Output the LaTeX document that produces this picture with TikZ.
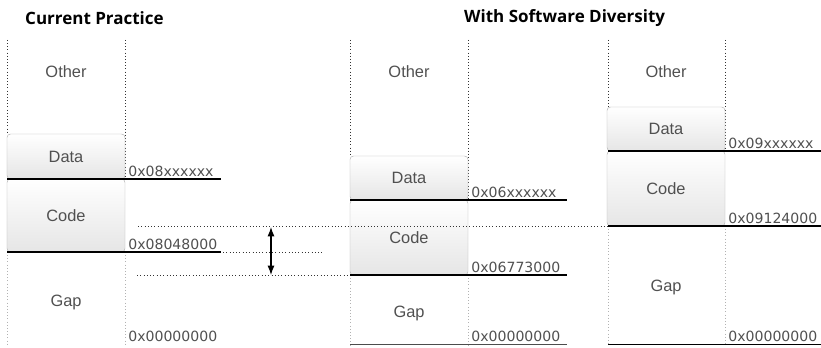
\documentclass[tikz,border=0pt]{standalone}
\usepackage{fontspec}
\setmainfont{Liberation Sans}
\newfontfamily\titlefont{Open Sans}
\newfontfamily\hexfont{DejaVu Sans}
\usetikzlibrary{arrows.meta}
\definecolor{labelgray}{HTML}{505050}

\begin{document}
\begin{tikzpicture}[x=0.03cm,y=-0.03cm,
    seg/.style={draw=gray!60, rounded corners=3pt, top color=white, bottom color=gray!20,
                minimum width=3.54cm, text=labelgray, font=\fontsize{14}{16}\selectfont},
    region/.style={text=labelgray, font=\fontsize{14}{16}\selectfont},
    addr/.style={anchor=south west, inner sep=1pt, text=labelgray, font=\hexfont\fontsize{12}{14}\selectfont},
    bound/.style={line width=1.2pt, black},
    colline/.style={dotted, line width=0.7pt, black!80},
    lowline/.style={dotted, line width=0.7pt, gray!60},
    guide/.style={dotted, line width=0.8pt, black!80},
    heading/.style={anchor=west, inner sep=0pt, font=\titlefont\bfseries\fontsize{14.5}{17}\selectfont}]
\useasboundingbox (0,0) rectangle (821,348);
% titles
\node[heading] (cur) at (25,18) {Current Practice};
\node[heading] (div) at (464,18) {With Software Diversity};
% column edges
\draw[colline] (7,40)--(7,134);
\draw[colline] (125,40)--(125,179);
\draw[lowline] (7,252)--(7,345);
\draw[lowline] (125,252)--(125,345);
\draw[colline] (350,40)--(350,156);
\draw[colline] (468,40)--(468,200);
\draw[lowline] (350,275)--(350,345);
\draw[lowline] (468,275)--(468,345);
\draw[colline] (608,40)--(608,107);
\draw[colline] (725,40)--(725,151);
\draw[lowline] (608,226)--(608,345);
\draw[lowline] (725,226)--(725,345);
% current practice
\node[region] (othA) at (66,72) {Other};
\node[seg, minimum height=1.35cm] (datA) at (66,156.5) {Data};
\node[seg, minimum height=2.19cm] (codA) at (66,215.5) {Code};
\node[region] (gapA) at (66,302) {Gap};
\draw[bound] (7,179)--(221,179);
\draw[bound] (7,252)--(221,252);
\node[addr] (hexA1) at (127,178) {0x08xxxxxx};
\node[addr] (hexA2) at (127,251) {0x08048000};
\node[addr] (hexA3) at (127,343) {0x00000000};
% shifted layout 1
\node[region] (othB) at (409,72) {Other};
\node[seg, minimum height=1.32cm] (datB) at (409,178) {Data};
\node[seg, minimum height=2.25cm] (codB) at (409,237.5) {Code};
\node[region] (gapB) at (409,313) {Gap};
\draw[bound] (350,200)--(567,200);
\draw[bound] (350,275)--(567,275);
\draw[line width=0.6pt, black!70] (350,344)--(567,344);
\node[addr] (hexB1) at (470,199) {0x06xxxxxx};
\node[addr] (hexB2) at (470,274) {0x06773000};
\node[addr] (hexB3) at (470,343) {0x00000000};
% shifted layout 2
\node[region] (othC) at (666,72) {Other};
\node[seg, minimum height=1.32cm] (datC) at (666,129) {Data};
\node[seg, minimum height=2.25cm] (codC) at (666,188.5) {Code};
\node[region] (gapC) at (666,287) {Gap};
\draw[bound] (608,151)--(821,151);
\draw[bound] (608,226)--(821,226);
\draw[line width=0.8pt, black] (608,344)--(821,344);
\node[addr] (hexC1) at (727,150) {0x09xxxxxx};
\node[addr] (hexC2) at (727,225) {0x09124000};
\node[addr] (hexC3) at (727,343) {0x00000000};
% offset guides
\draw[guide] (138,226)--(608,226);
\draw[guide] (223,252)--(324,252);
\draw[guide] (137,275)--(350,275);
\coordinate (top) at (271,227);
\coordinate (bot) at (271,275);
\draw[line width=1pt, {Latex[length=8pt,width=6pt]}-{Latex[length=8pt,width=6pt]}] (top)--(bot);
\end{tikzpicture}
\end{document}
